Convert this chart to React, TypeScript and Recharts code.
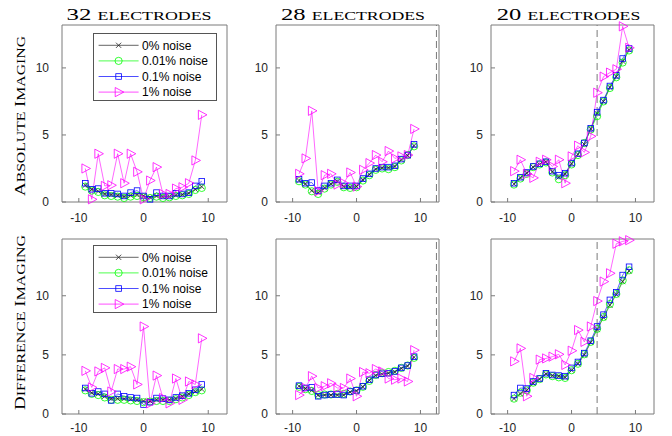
import React from 'react';
import { LineChart, Line, XAxis, YAxis, ReferenceLine, Legend } from 'recharts';

// ---------- data ----------
const positions = [-9, -8, -7, -6, -5, -4, -3, -2, -1, 0, 1, 2, 3, 4, 5, 6, 7, 8, 9];
const noiseLabels = ['0% noise', '0.01% noise', '0.1% noise', '1% noise'];
const electrodeCounts = ['32', '28', '20'];
const titleWord = 'ELECTRODES';
const rowLabels = ['Absolute Imaging', 'Difference Imaging'];
const xTicks = [-10, 0, 10];
const yTicks = [0, 5, 10];

// Absolute imaging, 32 electrodes
const abs32n0 = [1.25, 0.95, 0.8, 0.6, 0.55, 0.5, 0.4, 0.5, 0.55, 0.45, 0.35, 0.45, 0.4, 0.4, 0.5, 0.55, 0.65, 0.95, 1.15];
const abs32n1 = [1.15, 0.85, 0.75, 0.5, 0.45, 0.4, 0.3, 0.4, 0.45, 0.35, 0.3, 0.4, 0.3, 0.35, 0.45, 0.5, 0.6, 0.9, 1.05];
const abs32n2 = [1.4, 0.95, 1.0, 0.65, 0.65, 0.6, 0.45, 0.7, 0.85, 0.45, 0.2, 0.7, 0.45, 0.45, 0.65, 0.6, 0.7, 1.2, 1.55];
const abs32n3 = [2.5, 0.2, 3.6, 1.2, 1.25, 3.6, 1.4, 3.6, 2.25, 0.2, 1.6, 2.6, 0.6, 0.6, 1.0, 1.1, 1.4, 3.1, 6.5];

// Absolute imaging, 28 electrodes
const abs28n0 = [1.6, 1.35, 0.85, 0.7, 1.05, 1.35, 1.55, 1.15, 1.1, 1.15, 1.65, 2.05, 2.45, 2.55, 2.55, 2.65, 3.15, 3.45, 4.2];
const abs28n1 = [1.55, 1.3, 0.8, 0.6, 1.0, 1.3, 1.5, 1.1, 1.05, 1.1, 1.6, 2.0, 2.4, 2.5, 2.45, 2.6, 3.1, 3.5, 4.15];
const abs28n2 = [1.7, 1.4, 1.45, 0.85, 1.2, 1.4, 1.65, 1.2, 1.2, 1.2, 1.75, 2.1, 2.5, 2.6, 2.6, 2.7, 3.2, 3.5, 4.3];
const abs28n3 = [2.1, 3.25, 6.8, 0.8, 2.0, 2.1, 1.3, 1.4, 2.2, 1.15, 2.4, 2.9, 3.5, 3.0, 3.8, 3.25, 3.4, 3.5, 5.45];

// Absolute imaging, 20 electrodes
const abs20n0 = [1.35, 1.8, 2.15, 2.6, 2.8, 3.0, 2.25, 1.85, 2.1, 2.85, 3.55, 4.3, 5.45, 6.6, 7.5, 8.55, 9.35, 10.5, 11.35];
const abs20n1 = [1.3, 1.75, 2.1, 2.6, 2.8, 2.95, 2.2, 1.7, 2.0, 2.8, 3.5, 4.4, 5.4, 6.4, 7.5, 8.5, 9.3, 10.4, 11.3];
const abs20n2 = [1.4, 1.85, 2.2, 2.65, 2.85, 3.0, 2.3, 2.0, 2.15, 2.9, 3.6, 4.4, 5.5, 6.7, 7.6, 8.65, 9.45, 10.7, 11.45];
const abs20n3 = [2.3, 3.15, 2.1, 1.8, 3.0, 3.15, 2.65, 3.15, 1.4, 3.4, 4.2, 3.7, 4.9, 8.15, 9.35, 9.65, 9.9, 13.1, 11.5];

// Difference imaging, 32 electrodes
const dif32n0 = [2.1, 1.8, 1.7, 1.5, 1.3, 1.3, 1.3, 1.25, 1.2, 1.1, 1.1, 1.2, 1.2, 1.2, 1.3, 1.5, 1.7, 1.9, 2.1];
const dif32n1 = [2.0, 1.7, 1.6, 1.4, 1.2, 1.2, 1.2, 1.15, 1.1, 1.0, 1.05, 1.1, 1.1, 1.1, 1.25, 1.4, 1.6, 1.85, 2.0];
const dif32n2 = [2.2, 1.75, 1.9, 1.7, 1.15, 1.7, 1.5, 1.4, 1.35, 0.8, 1.0, 1.35, 1.3, 1.2, 1.4, 1.55, 1.75, 2.05, 2.5];
const dif32n3 = [3.65, 2.25, 3.6, 3.9, 1.9, 3.8, 3.8, 4.0, 2.5, 7.4, 0.9, 3.25, 1.35, 0.9, 3.0, 1.2, 2.75, 2.5, 6.4];

// Difference imaging, 28 electrodes
const dif28n0 = [2.35, 2.15, 2.0, 1.6, 1.6, 1.6, 1.6, 1.6, 1.85, 1.95, 2.3, 2.85, 3.25, 3.35, 3.45, 3.55, 3.85, 4.05, 4.8];
const dif28n1 = [2.3, 2.1, 1.95, 1.6, 1.65, 1.65, 1.7, 1.7, 1.9, 2.0, 2.3, 2.8, 3.3, 3.45, 3.55, 3.65, 3.9, 4.1, 4.75];
const dif28n2 = [2.4, 2.2, 2.25, 1.5, 1.6, 1.65, 1.65, 1.6, 1.9, 2.0, 2.35, 2.9, 3.3, 3.4, 3.45, 3.6, 3.9, 4.1, 4.85];
const dif28n3 = [1.6, 2.2, 3.2, 2.2, 2.35, 2.6, 2.2, 2.2, 3.0, 1.5, 3.55, 3.45, 3.8, 3.6, 3.0, 2.9, 3.0, 2.75, 5.4];

// Difference imaging, 20 electrodes
const dif20n0 = [1.3, 1.7, 2.0, 2.6, 2.95, 3.4, 3.25, 3.2, 3.1, 3.7, 4.25, 5.0, 6.05, 7.15, 8.15, 9.2, 10.1, 11.2, 12.1];
const dif20n1 = [1.3, 1.8, 2.0, 2.65, 2.95, 3.35, 3.2, 3.1, 3.05, 3.7, 4.25, 5.05, 6.1, 7.2, 8.2, 9.3, 10.15, 11.3, 12.15];
const dif20n2 = [1.6, 2.2, 2.15, 2.75, 3.0, 3.45, 3.3, 3.25, 3.2, 3.9, 4.4, 5.15, 6.2, 7.4, 8.4, 9.65, 10.3, 11.75, 12.45];
const dif20n3 = [4.45, 5.55, 1.5, 3.05, 4.6, 4.7, 4.85, 5.05, 4.15, 5.35, 7.1, 6.1, 7.4, 9.55, 11.2, 11.9, 14.4, 14.6, 14.7];

// dashed guide positions per column (null = none)
const dashedX = [null, 12.5, 4];
const xDomain = [-12.6, 12.9];
const yMaxRows = [13.2, 14.8];

// ---------- styling ----------
const SANS = '"Liberation Sans", Arial, Helvetica, sans-serif';
const SERIF = '"Liberation Serif", "Times New Roman", serif';
const FRAME = '#7a7a7a';
const TXT = '#262626';
const COLORS = ['#222222', '#00ff00', '#0000ff', '#ff00ff'];
const KEYS = ['n0', 'n1', 'n2', 'n3'];

const colLeft = [62, 276, 491];
const colWidth = [165, 163, 163];
const rowTop = [25, 239];
const rowHeight = [177, 175];
const yLabelGap = [13, 8, 8];
const xLabelDy = [19.5, 17.5];

// chart margins; the 1px axis band is part of the left / bottom margin
const ML = 35, MR = 10, MT = 10, MB = 25;

function buildRows(a: number[], b: number[], c: number[], d: number[]) {
  return positions.map((x, i) => ({ x, n0: a[i], n1: b[i], n2: c[i], n3: d[i] }));
}

const panelData = [
  [buildRows(abs32n0, abs32n1, abs32n2, abs32n3), buildRows(abs28n0, abs28n1, abs28n2, abs28n3), buildRows(abs20n0, abs20n1, abs20n2, abs20n3)],
  [buildRows(dif32n0, dif32n1, dif32n2, dif32n3), buildRows(dif28n0, dif28n1, dif28n2, dif28n3), buildRows(dif20n0, dif20n1, dif20n2, dif20n3)],
];

// ---------- markers ----------
function markerShape(kind: number, cx: number, cy: number, key?: any) {
  const sw = 0.8;
  if (kind === 0) {
    const s = 2.6;
    return (
      <g key={key}>
        <line x1={cx - s} y1={cy - s} x2={cx + s} y2={cy + s} stroke={COLORS[0]} strokeWidth={sw} />
        <line x1={cx - s} y1={cy + s} x2={cx + s} y2={cy - s} stroke={COLORS[0]} strokeWidth={sw} />
      </g>
    );
  }
  if (kind === 1) {
    return <circle key={key} cx={cx} cy={cy} r={3.6} fill="none" stroke={COLORS[1]} strokeWidth={sw} />;
  }
  if (kind === 2) {
    const s = 2.8;
    return <rect key={key} x={cx - s} y={cy - s} width={2 * s} height={2 * s} fill="none" stroke={COLORS[2]} strokeWidth={sw} />;
  }
  return (
    <polygon
      key={key}
      points={`${cx - 3.4},${cy - 4.6} ${cx - 3.4},${cy + 4.6} ${cx + 5.2},${cy}`}
      fill="none"
      stroke={COLORS[3]}
      strokeWidth={sw}
    />
  );
}

function makeDot(kind: number) {
  return (p: any) => {
    if (p == null || p.cx == null || p.cy == null) return <g key={p && p.key} />;
    return markerShape(kind, p.cx, p.cy, p.key);
  };
}

// ---------- ticks ----------
function makeXTick(dy: number) {
  return (p: any) => {
    const { x, y, payload } = p;
    return (
      <g>
        <line x1={x} x2={x} y1={y} y2={y - 4} stroke={FRAME} strokeWidth={1} />
        <text x={x} y={y + dy} textAnchor="middle" fontSize={12} fontFamily={SANS} fill={TXT}>
          {String(payload.value)}
        </text>
      </g>
    );
  };
}

function makeYTick(gap: number) {
  return (p: any) => {
    const { x, y, payload } = p;
    return (
      <g>
        <line x1={x} x2={x + 4} y1={y} y2={y} stroke={FRAME} strokeWidth={1} />
        <text x={x - gap} y={y + 4.3} textAnchor="end" fontSize={12} fontFamily={SANS} fill={TXT}>
          {String(payload.value)}
        </text>
      </g>
    );
  };
}

// ---------- legend ----------
function renderLegend(props: any) {
  const payload = (props && props.payload) || [];
  const W = 124, H = 68;
  const items = payload.length ? payload : noiseLabels.map((v, i) => ({ value: v, dataKey: KEYS[i] }));
  return (
    <svg width={W} height={H} style={{ display: 'block' }}>
      <rect x={0.5} y={0.5} width={W - 1} height={H - 1} fill="#ffffff" stroke="#555555" strokeWidth={1} />
      {items.map((it: any, i: number) => {
        const kind = Math.max(0, KEYS.indexOf(String(it.dataKey)));
        const cy = 12.3 + i * 15.6;
        return (
          <g key={i}>
            <line x1={5.6} x2={45.6} y1={cy} y2={cy} stroke={COLORS[kind]} strokeWidth={0.7} />
            {markerShape(kind, 25.6, cy)}
            <text x={49} y={cy + 4.3} fontSize={12} fontFamily={SANS} fill="#000">
              {it.value}
            </text>
          </g>
        );
      })}
    </svg>
  );
}

// ---------- panel ----------
function Panel({ r, c }: { r: number; c: number }) {
  const w = colWidth[c];
  const h = rowHeight[r];
  const ymax = yMaxRows[r];
  const data = panelData[r][c];
  const dx = dashedX[c];
  return (
    <div style={{ position: 'absolute', left: colLeft[c] - ML - 1, top: rowTop[r] - MT }}>
      <LineChart width={w + ML + 1 + MR} height={h + MT + MB + 1} data={data} margin={{ top: MT, right: MR, bottom: MB, left: ML }}>
        <XAxis
          dataKey="x"
          type="number"
          domain={xDomain}
          ticks={xTicks}
          interval={0}
          height={1}
          tickSize={0}
          tickMargin={0}
          tickLine={false}
          axisLine={{ stroke: FRAME, strokeWidth: 1 }}
          tick={makeXTick(xLabelDy[r])}
        />
        <XAxis
          xAxisId="top"
          orientation="top"
          mirror
          type="number"
          domain={xDomain}
          ticks={xTicks}
          interval={0}
          height={1}
          tickSize={4}
          tick={false}
          tickLine={{ stroke: FRAME, strokeWidth: 1 }}
          axisLine={{ stroke: FRAME, strokeWidth: 1 }}
        />
        <YAxis
          type="number"
          domain={[0, ymax]}
          ticks={yTicks}
          interval={0}
          width={1}
          tickSize={0}
          tickMargin={0}
          tickLine={false}
          axisLine={{ stroke: FRAME, strokeWidth: 1 }}
          tick={makeYTick(yLabelGap[c])}
        />
        <YAxis
          yAxisId="right"
          orientation="right"
          mirror
          type="number"
          domain={[0, ymax]}
          ticks={yTicks}
          interval={0}
          width={1}
          tickSize={4}
          tick={false}
          tickLine={{ stroke: FRAME, strokeWidth: 1 }}
          axisLine={{ stroke: FRAME, strokeWidth: 1 }}
        />
        {dx != null && <ReferenceLine x={dx} stroke="#6a6a6a" strokeWidth={0.9} strokeDasharray="7 4" />}
        {KEYS.map((k, i) => (
          <Line
            key={k}
            dataKey={k}
            name={noiseLabels[i]}
            type="linear"
            stroke={COLORS[i]}
            strokeWidth={0.6}
            dot={makeDot(i)}
            activeDot={false}
            isAnimationActive={false}
          />
        ))}
        {c === 0 && (
          <Legend
            layout="vertical"
            align="center"
            verticalAlign="middle"
            content={renderLegend}
            wrapperStyle={{ left: 92.7 - (colLeft[0] - ML - 1), top: (r === 0 ? 32.7 : 245) - (rowTop[r] - MT), width: 124, height: 68 }}
          />
        )}
      </LineChart>
    </div>
  );
}

// ---------- labels ----------
const titleCenters = [139, 353, 568.5];
const titleLengths = [145, 144, 143.5];
const rowLabelCenters = [116, 322.5];
const rowLabelLengths = [160, 175];

function smallCaps(label: string, big: number, small: number) {
  const words = label.split(' ');
  const parts: any[] = [];
  words.forEach((w, i) => {
    parts.push(
      <tspan key={`b${i}`} fontSize={big}>
        {(i > 0 ? ' ' : '') + w[0].toUpperCase()}
      </tspan>
    );
    parts.push(
      <tspan key={`s${i}`} fontSize={small}>
        {w.slice(1).toUpperCase()}
      </tspan>
    );
  });
  return parts;
}

export default function App() {
  return (
    <div style={{ position: 'absolute', left: 0, top: 0, width: 672, height: 436, background: '#ffffff', overflow: 'hidden' }}>
      {[0, 1].map((r) => [0, 1, 2].map((c) => <Panel key={`${r}-${c}`} r={r} c={c} />))}
      <svg width={672} height={436} style={{ position: 'absolute', left: 0, top: 0, pointerEvents: 'none' }}>
        {electrodeCounts.map((n, i) => (
          <text
            key={n}
            x={titleCenters[i]}
            y={20}
            textAnchor="middle"
            textLength={titleLengths[i]}
            lengthAdjust="spacingAndGlyphs"
            fontFamily={SERIF}
            fill="#000"
          >
            <tspan fontSize={17.5}>{n + ' '}</tspan>
            <tspan fontSize={12.6}>{titleWord}</tspan>
          </text>
        ))}
        {rowLabels.map((lab, i) => (
          <text
            key={lab}
            transform={`translate(25, ${rowLabelCenters[i]}) rotate(-90)`}
            textAnchor="middle"
            textLength={rowLabelLengths[i]}
            lengthAdjust="spacingAndGlyphs"
            fontFamily={SERIF}
            fill="#000"
          >
            {smallCaps(lab, 15, 12.5)}
          </text>
        ))}
      </svg>
    </div>
  );
}
